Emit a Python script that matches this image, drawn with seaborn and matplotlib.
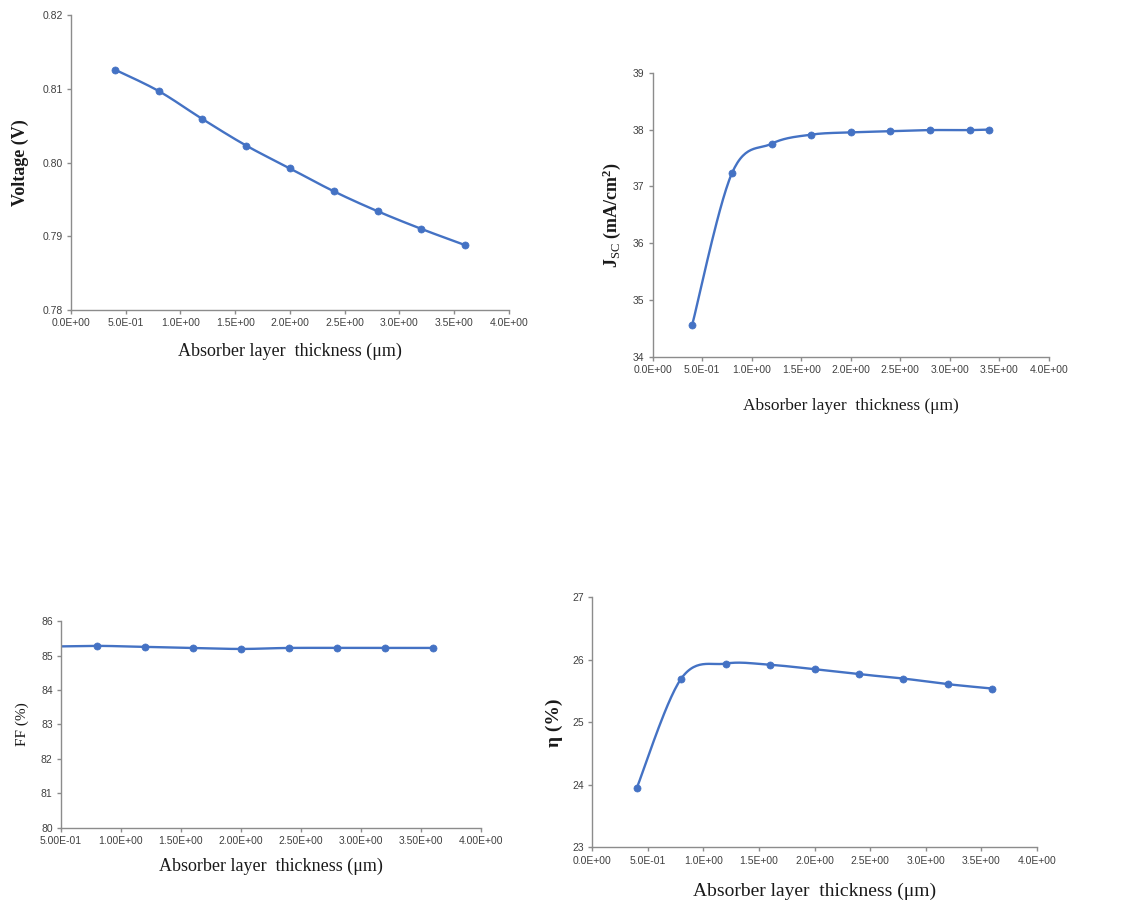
import numpy as np
import pandas as pd
import matplotlib
matplotlib.use("Agg")
import matplotlib.pyplot as plt
from matplotlib.ticker import FuncFormatter, MultipleLocator
import seaborn as sns

# ---- data ----
thickness = [0.4, 0.8, 1.2, 1.6, 2.0, 2.4, 2.8, 3.2, 3.6]
voltage = [0.8126, 0.8097, 0.8059, 0.8023, 0.7992, 0.7961, 0.7934, 0.7910, 0.7888]

thickness_jsc = [0.4, 0.8, 1.2, 1.6, 2.0, 2.4, 2.8, 3.2, 3.4]
jsc = [34.57, 37.23, 37.75, 37.91, 37.95, 37.97, 37.99, 37.99, 38.00]

ff = [85.26, 85.28, 85.25, 85.22, 85.19, 85.22, 85.22, 85.22, 85.22]

eta = [23.95, 25.70, 25.94, 25.92, 25.85, 25.77, 25.70, 25.61, 25.54]

sns.set_theme(style="white")
plt.rcParams['font.family'] = ['Liberation Serif', 'DejaVu Serif']
plt.rcParams['mathtext.fontset'] = 'custom'
plt.rcParams['mathtext.rm'] = 'Liberation Serif'
plt.rcParams['mathtext.it'] = 'Liberation Serif:italic'
plt.rcParams['mathtext.bf'] = 'Liberation Serif:bold'

BLUE = "#4472C4"
SPINE = "#8c8c8c"
TICKFONT = ['Liberation Sans Narrow', 'Liberation Sans', 'DejaVu Sans']


def smooth_curve(x, y, n=30):
    """Excel-like smoothed line (Catmull-Rom / Bezier) through the data points."""
    x = np.asarray(x, float)
    y = np.asarray(y, float)
    P = np.column_stack([x, y])
    out = []
    for i in range(len(P) - 1):
        p0 = P[i - 1] if i > 0 else P[i]
        p1 = P[i]
        p2 = P[i + 1]
        p3 = P[i + 2] if i + 2 < len(P) else P[i + 1]
        c1 = p1 + (p2 - p0) / 6.0
        c2 = p2 - (p3 - p1) / 6.0
        t = np.linspace(0, 1, n)[:, None]
        seg = ((1 - t) ** 3) * p1 + 3 * ((1 - t) ** 2) * t * c1 + 3 * (1 - t) * t ** 2 * c2 + t ** 3 * p2
        out.append(seg if i == 0 else seg[1:])
    seg = np.vstack(out)
    return seg[:, 0], seg[:, 1]


def panel(fig, rect, x, y, xlim, ylim, ystep, xfmt, yfmt, xlabel, ylabel,
          ylab_bold, xlab_size, ylab_size, xlab_coords, ylab_coords, xstep=0.5):
    ax = fig.add_axes(rect)
    sx, sy = smooth_curve(x, y)
    df_line = pd.DataFrame({"x": sx, "y": sy})
    df_pts = pd.DataFrame({"x": x, "y": y})
    sns.lineplot(data=df_line, x="x", y="y", ax=ax, color=BLUE, linewidth=1.7,
                 sort=False, estimator=None)
    sns.scatterplot(data=df_pts, x="x", y="y", ax=ax, color=BLUE, s=26,
                    edgecolor=BLUE, linewidth=0.5, zorder=3)
    ax.set_xlim(*xlim)
    ax.set_ylim(*ylim)
    ax.xaxis.set_major_locator(MultipleLocator(xstep))
    ax.yaxis.set_major_locator(MultipleLocator(ystep))
    ax.xaxis.set_major_formatter(FuncFormatter(xfmt))
    ax.yaxis.set_major_formatter(FuncFormatter(yfmt))
    for s in ["top", "right"]:
        ax.spines[s].set_visible(False)
    for s in ["left", "bottom"]:
        ax.spines[s].set_color(SPINE)
        ax.spines[s].set_linewidth(1.0)
    ax.tick_params(axis="both", which="major", direction="out", length=3,
                   width=1.0, color=SPINE, labelsize=7.5, labelcolor="#404040",
                   bottom=True, left=True, pad=3)
    for lab in ax.get_xticklabels() + ax.get_yticklabels():
        lab.set_family(TICKFONT)
    ax.set_xlabel(xlabel, fontsize=xlab_size, color="#1a1a1a")
    ax.set_ylabel(ylabel, fontsize=ylab_size, color="#1a1a1a",
                  fontweight="bold" if ylab_bold else "normal")
    ax.xaxis.set_label_coords(*xlab_coords)
    ax.yaxis.set_label_coords(*ylab_coords)
    ax.grid(False)
    return ax


fig = plt.figure(figsize=(11.27, 9.06), dpi=100)
fig.patch.set_facecolor("white")

XLABEL = "Absorber layer  thickness (\u03bcm)"

fmt1 = lambda v, p: f"{v:.1E}"
fmt2 = lambda v, p: f"{v:.2E}"

# top-left: Voltage
panel(fig, [0.0630, 0.6578, 0.3886, 0.3256], thickness, voltage,
      (0.0, 4.0), (0.78, 0.82), 0.01, fmt1, lambda v, p: f"{v:.2f}",
      XLABEL, "Voltage (V)", True, 13, 13, (0.5, -0.112), (-0.095, 0.5))

# top-right: Jsc
panel(fig, [0.5791, 0.6060, 0.3516, 0.3138], thickness_jsc, jsc,
      (0.0, 4.0), (34, 39), 1, fmt1, lambda v, p: f"{v:.0f}",
      XLABEL, r"J$_{\mathrm{SC}}$ (mA/cm$^{\mathbf{2}}$)", True, 12.5, 13,
      (0.5, -0.144), (-0.075, 0.5))

# bottom-left: FF
panel(fig, [0.0541, 0.0864, 0.3727, 0.2281], thickness, ff,
      (0.5, 4.0), (80, 86), 1, fmt2, lambda v, p: f"{v:.0f}",
      XLABEL, "FF (%)", False, 13, 11, (0.5, -0.146), (-0.075, 0.5))

# bottom-right: efficiency
panel(fig, [0.5256, 0.0648, 0.3943, 0.2759], thickness, eta,
      (0.0, 4.0), (23, 27), 1, fmt1, lambda v, p: f"{v:.0f}",
      XLABEL, "\u03b7 (%)", True, 14, 14, (0.5, -0.14), (-0.065, 0.5))

fig.savefig("out.png", dpi=100, facecolor="white")
